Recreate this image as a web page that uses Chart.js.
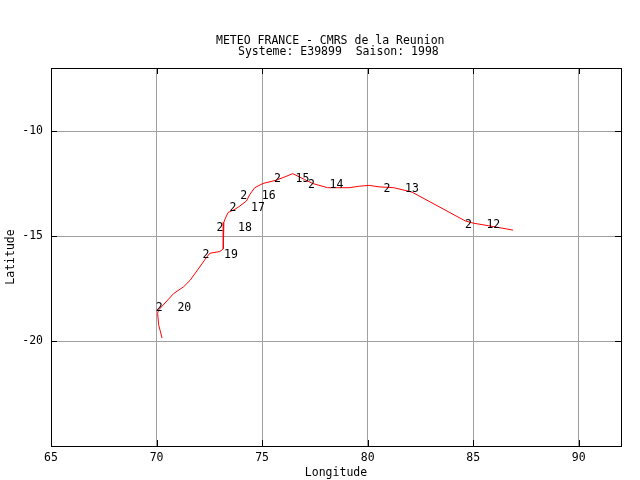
<!DOCTYPE html>
<html>
<head>
<meta charset="utf-8">
<script src="https://cdn.jsdelivr.net/npm/chart.js@4/dist/chart.umd.min.js"></script>
<style>
html,body{margin:0;padding:0;background:#fff;}
#wrap{width:640px;height:480px;}
</style>
</head>
<body>
<div id="wrap"><canvas id="c" width="640" height="480"></canvas></div>
<script>
// Track (east -> west/south)
const trackLon = [86.89,85.72,85.01,84.62,82.10,81.24,80.54,80.07,79.60,79.12,78.10,77.40,77.01,76.45,76.14,75.67,75.04,74.65,74.42,74.26,73.95,73.71,73.39,73.24,73.19,73.16,73.00,72.53,72.38,71.59,71.28,70.81,70.10,70.05,70.10,70.26];
const trackLat = [-14.72,-14.51,-14.39,-14.28,-12.91,-12.70,-12.66,-12.59,-12.63,-12.70,-12.70,-12.50,-12.31,-12.03,-12.16,-12.34,-12.50,-12.70,-13.02,-13.33,-13.57,-13.73,-13.88,-14.20,-14.35,-15.61,-15.74,-15.82,-16.00,-17.11,-17.42,-17.74,-18.52,-18.68,-19.23,-19.86];
// Daily positions
const dayLabels = ['12','13','14','15','16','17','18','19','20'];
const dayStage  = ['2','2','2','2','2','2','2','2','2'];
const dayLon = [84.77,80.91,77.34,75.73,74.13,73.62,73.00,72.34,70.13];
const dayLat = [-14.39,-12.69,-12.50,-12.17,-13.02,-13.58,-14.53,-15.80,-18.35];
const xTicks = [65,70,75,80,85,90];
const yTicks = [-10,-15,-20];
const titleLines = ['METEO FRANCE - CMRS de la Reunion','Systeme: E39899  Saison: 1998'];
const xTitle = 'Longitude';
const yTitle = 'Latitude';

const FONT = '"DejaVu Sans Mono", monospace';

const trackData = trackLon.map((v,i)=>({x:v,y:trackLat[i]}));
const dayData = dayLon.map((v,i)=>({x:v,y:dayLat[i]}));

const framePlugin = {
  id:'frame',
  afterDraw(chart){
    const {ctx, chartArea:a, scales} = chart;
    ctx.save();
    ctx.strokeStyle = '#000';
    ctx.lineWidth = 1;
    ctx.strokeRect(Math.round(a.left)+0.5, Math.round(a.top)+0.5, Math.round(a.right-a.left), Math.round(a.bottom-a.top));
    // inside tick marks (mirrored)
    ctx.beginPath();
    xTicks.forEach(t=>{
      const x = Math.round(scales.x.getPixelForValue(t))+0.5;
      ctx.moveTo(x,a.bottom); ctx.lineTo(x,a.bottom-6);
      ctx.moveTo(x,a.top); ctx.lineTo(x,a.top+6);
    });
    yTicks.forEach(t=>{
      const y = Math.round(scales.y.getPixelForValue(t))+0.5;
      ctx.moveTo(a.left,y); ctx.lineTo(a.left+6,y);
      ctx.moveTo(a.right,y); ctx.lineTo(a.right-6,y);
    });
    ctx.stroke();
    // day labels
    ctx.fillStyle = '#000';
    ctx.font = '11.5px ' + FONT;
    ctx.textBaseline = 'middle';
    ctx.textAlign = 'center';
    dayData.forEach((p,i)=>{
      const x = scales.x.getPixelForValue(p.x);
      const y = scales.y.getPixelForValue(p.y) + 2;
      ctx.fillText(dayStage[i], x, y);
      ctx.fillText(dayLabels[i], x+25, y);
    });
    // title
    ctx.textAlign = 'left';
    ctx.fillText(titleLines[0], 216, 41);
    ctx.fillText(titleLines[1], 238, 52);
    ctx.restore();
  }
};

new Chart(document.getElementById('c'), {
  type:'scatter',
  data:{
    datasets:[
      {data:trackData, showLine:true, borderColor:'#ff0000', borderWidth:1, pointRadius:0, tension:0, fill:false},
      {data:dayData, showLine:false, pointRadius:0}
    ]
  },
  options:{
    responsive:false,
    animation:false,
    devicePixelRatio:1,
    layout:{padding:{top:68,right:19,left:0,bottom:0}},
    plugins:{legend:{display:false}, tooltip:{enabled:false}, title:{display:false}},
    scales:{
      x:{
        type:'linear', min:65, max:92,
        afterBuildTicks(s){ s.ticks = xTicks.map(v=>({value:v})); },
        afterFit(s){ s.height = 34; },
        grid:{color:'#a0a0a0', lineWidth:1, drawTicks:false},
        border:{display:false},
        ticks:{font:{family:FONT,size:11.5}, color:'#000', padding:5, maxRotation:0, autoSkip:false},
        title:{display:true, text:xTitle, font:{family:FONT,size:11.5}, color:'#000', padding:{top:0,bottom:0}}
      },
      y:{
        type:'linear', min:-25, max:-7,
        afterBuildTicks(s){ s.ticks = yTicks.map(v=>({value:v})); },
        afterFit(s){ s.width = 51; },
        grid:{color:'#a0a0a0', lineWidth:1, drawTicks:false},
        border:{display:false},
        ticks:{font:{family:FONT,size:11.5}, color:'#000', padding:8, autoSkip:false},
        title:{display:true, text:yTitle, font:{family:FONT,size:11.5}, color:'#000', padding:{top:4,bottom:0}}
      }
    }
  },
  plugins:[framePlugin]
});
</script>
</body>
</html>
